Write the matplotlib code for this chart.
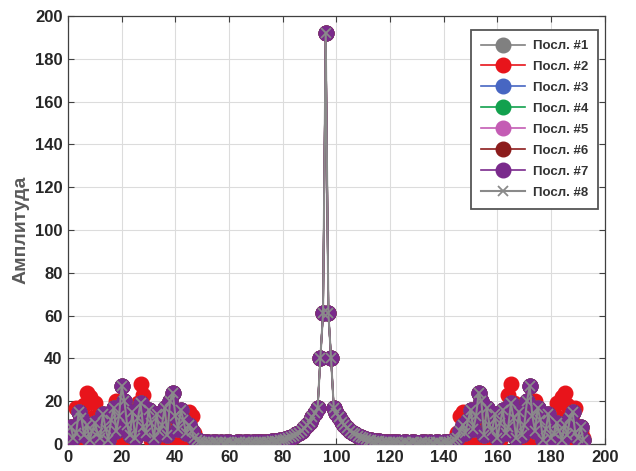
import matplotlib
matplotlib.use('agg')

import matplotlib.pyplot as plt
import numpy as np

plt.rcParams['font.family'] = ['Liberation Sans', 'DejaVu Sans']

# spectral amplitude of the eight sequences, bins 1..192
bins = np.arange(1, 193)

# left side lobe (bins 1..48)
lobe_left = [8, 3, 5, 15, 12, 4, 9, 2, 6, 10, 5, 3, 14, 7, 2, 11,
             17, 6, 13, 27, 20, 9, 4, 15, 3, 12, 19, 8, 5, 16, 10, 3,
             14, 6, 9, 17, 4, 20, 24, 13, 7, 16, 11, 5, 9, 6, 3, 2]
lobe_left_red = [6, 3, 17, 10, 2, 18, 24, 22, 12, 19, 8, 1, 5, 13, 9, 2,
                 15, 20, 10, 4, 1, 12, 6, 2, 11, 19, 28, 23, 16, 7, 2, 10,
                 5, 14, 8, 3, 12, 9, 4, 2, 6, 11, 1, 3, 15, 13, 5, 2]

# main lobe and the flat floor around it (bins 49..143)
center = [1.5, 1, 0.8, 1, 0.6, 0.8, 1, 0.7, 0.9, 0.6, 0.8, 1, 0.7, 0.6, 0.9, 0.8,
          0.7, 1, 0.8, 0.6, 0.9, 0.8, 1, 0.9, 0.8, 1.1, 1, 1.2, 1.3, 1.5, 1.7,
          2, 2.3, 2.7, 3.2, 3.8, 4.5, 5.3, 6.3, 7.5, 9, 10.5, 12.5, 14.5, 17, 40, 61,
          192,
          61, 40, 17, 14.5, 12.5, 10.5, 9, 7.5, 6.3, 5.3, 4.5, 3.8, 3.2, 2.7, 2.3, 2,
          1.7, 1.5, 1.3, 1.2, 1, 1.1, 0.8, 0.9, 1, 0.8, 0.9, 0.6, 0.8, 1, 0.7, 0.8,
          0.9, 0.6, 0.7, 1, 0.8, 0.6, 0.9, 0.7, 1, 0.8, 0.6, 1, 0.8, 1, 1.5]

# right side lobe (bins 144..192)
lobe_right = [2, 3, 6, 9, 5, 11, 16, 7, 13, 24, 20, 4, 17, 9, 6, 14,
              3, 10, 16, 5, 8, 19, 12, 3, 15, 4, 9, 20, 27, 13, 6, 17,
              11, 2, 7, 14, 3, 5, 10, 6, 2, 9, 4, 12, 15, 5, 3, 8, 2]
lobe_right_red = [2, 5, 13, 15, 3, 1, 11, 6, 2, 4, 9, 12, 3, 8, 14, 5,
                  10, 2, 7, 16, 23, 28, 19, 11, 2, 6, 12, 1, 4, 10, 20, 15,
                  2, 9, 13, 5, 1, 8, 19, 12, 22, 24, 18, 2, 10, 17, 3, 6, 3]

amp_main = np.array(lobe_left + center + lobe_right)
amp_red = np.array(lobe_left_red + center + lobe_right_red)

labels = ['Посл. #1', 'Посл. #2', 'Посл. #3', 'Посл. #4',
          'Посл. #5', 'Посл. #6', 'Посл. #7', 'Посл. #8']
colors = ['#808080', '#e8141b', '#4766c2', '#12a14e',
          '#c45cb4', '#8c1c1c', '#7a2a8c', '#8a8a8a']
series = [amp_main, amp_red, amp_main, amp_main,
          amp_main, amp_main, amp_main, amp_main]

fig = plt.figure(figsize=(6.36, 4.71), dpi=100)
ax = fig.add_axes([0.107, 0.0573, 0.844, 0.909])

for i, (y, lab, c) in enumerate(zip(series, labels, colors)):
    if i == 7:
        ax.plot(bins, y, color=c, lw=1.5, marker='x', ms=6.5, mew=1.3,
                label=lab, zorder=3 + i)
    else:
        ax.plot(bins, y, color=c, lw=1.2, marker='o', ms=10.5, mec=c,
                label=lab, zorder=3 + i)

ax.set_xlim(0, 200)
ax.set_ylim(0, 200)
ax.set_xticks(np.arange(0, 201, 20))
ax.set_yticks(np.arange(0, 201, 20))
ax.grid(True, color='#dcdcdc', lw=0.8)
ax.set_axisbelow(True)

ax.tick_params(direction='in', top=True, right=True, length=4,
               color='#404040', labelsize=12, labelcolor='#262626', pad=4)
for lbl in ax.get_xticklabels() + ax.get_yticklabels():
    lbl.set_fontweight('bold')
for sp in ax.spines.values():
    sp.set_color('#404040')
    sp.set_linewidth(0.9)

ax.set_ylabel('Амплитуда', fontsize=14, fontweight='bold', color='#5a5a5a',
              labelpad=4)

leg = ax.legend(loc='upper right', bbox_to_anchor=(0.987, 0.967),
                prop={'weight': 'bold', 'size': 9.5},
                handlelength=3.3, labelspacing=0.66, borderaxespad=0,
                fancybox=False, framealpha=1, edgecolor='#555555',
                borderpad=0.75, handletextpad=0.6)
leg.get_frame().set_linewidth(1.3)
for t in leg.get_texts():
    t.set_color('#333333')

fig.savefig('out.png', dpi=100)
